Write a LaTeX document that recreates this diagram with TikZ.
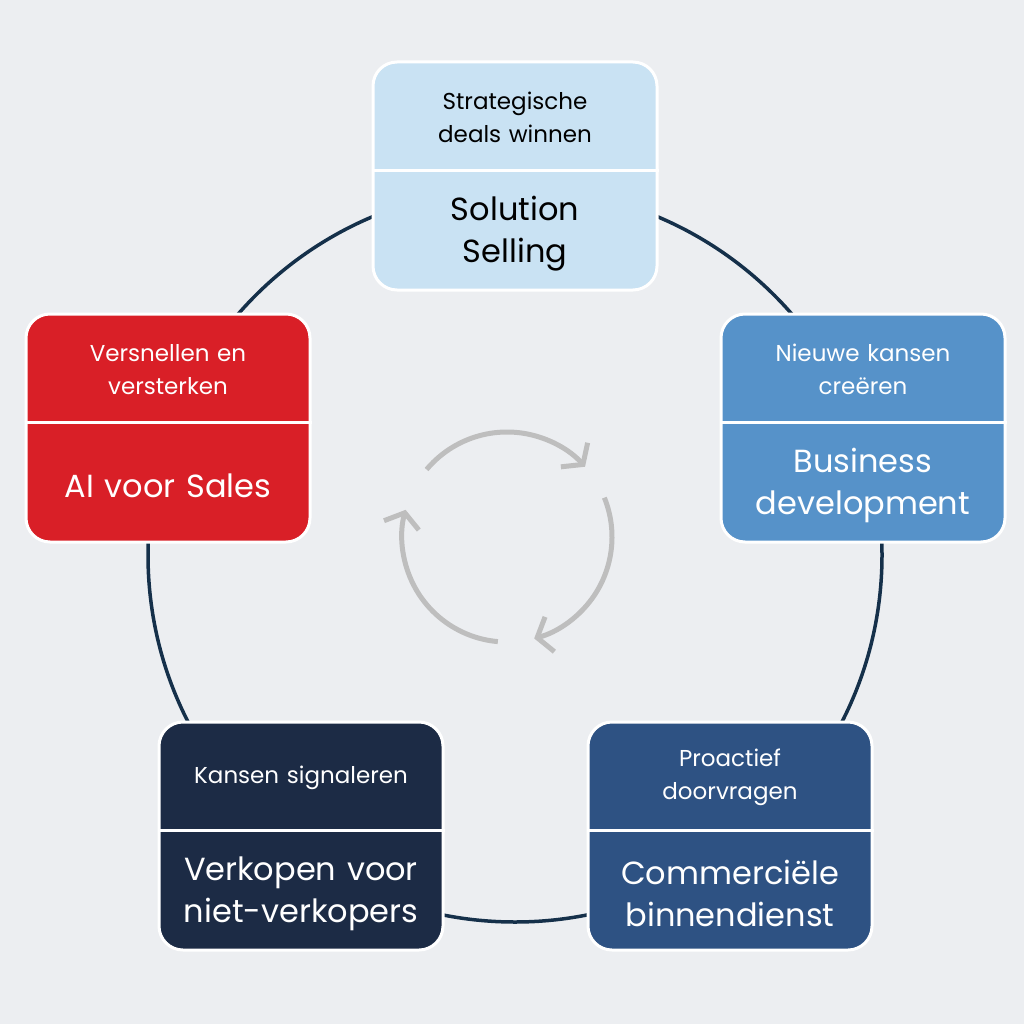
\documentclass[tikz,border=0pt]{standalone}
\usepackage{fontspec}
\setmainfont{Poppins}
\usetikzlibrary{arrows.meta, positioning}
\definecolor{bgc}{HTML}{ECEEF1}
\definecolor{ringc}{HTML}{15304A}
\definecolor{lightc}{HTML}{C9E2F3}
\definecolor{midc}{HTML}{5692C9}
\definecolor{redc}{HTML}{D91F27}
\definecolor{navyc}{HTML}{1C2B45}
\definecolor{steelc}{HTML}{2E5283}
\definecolor{cyclec}{HTML}{BEBEBE}
\tikzset{
    card/.style={rectangle, rounded corners=24pt, draw=white, line width=3pt,
        minimum width=284pt, minimum height=228pt},
    sub/.style={text width=270pt, align=center, font=\fontsize{23}{33}\selectfont},
    title/.style={text width=280pt, align=center, font=\fontsize{32}{42}\selectfont},
    cyc/.style={cyclec, line width=5pt, -{Straight Barb[length=13pt,width=36pt]}},
}
\newcommand{\card}[6]{%
    \node[card, fill=#3] (#1) at (#2) {};
    \draw[white, line width=3pt] ([yshift=-110pt]#1.north west) -- ([yshift=-110pt]#1.north east);
    \node[sub, text=#4] (#1s) at ([yshift=-57pt]#1.north) {#5};
    \node[title, text=#4] (#1t) at ([yshift=58pt]#1.south) {#6};
}
\begin{document}
\begin{tikzpicture}[x=1pt, y=-1pt]
    \fill[bgc] (0,0) rectangle (1024,1024);
    \useasboundingbox (0,0) rectangle (1024,1024);

    % ring behind the cards
    \draw[ringc, line width=3.5pt] (515,555) circle[radius=367];

    % cycle in the middle
    \draw[cyc] ([shift={(-140:105)}]507,537) arc[start angle=-140, end angle=-42, radius=105];
    \draw[cyc] ([shift={(-22:105)}]507,537) arc[start angle=-22, end angle=75, radius=105];
    \draw[cyc] ([shift={(95:105)}]507,537) arc[start angle=95, end angle=195, radius=105];

    % cards
    \card{solution}{515,176}{lightc}{black}{Strategische\\deals winnen}{Solution\\Selling}
    \card{business}{863,428}{midc}{white}{Nieuwe kansen\\creëren}{Business\\development}
    \card{ai}{168,428}{redc}{white}{Versnellen en\\versterken}{AI voor Sales}
    \card{verkopen}{301,836}{navyc}{white}{Kansen signaleren}{Verkopen voor\\niet-verkopers}
    \card{commercie}{730,836}{steelc}{white}{Proactief\\doorvragen}{Commerciële\\binnendienst}
\end{tikzpicture}
\end{document}
